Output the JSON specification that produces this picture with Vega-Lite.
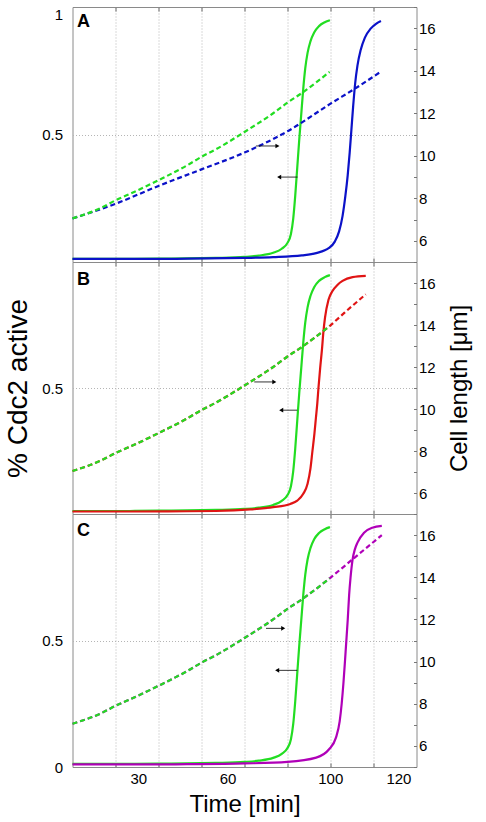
{
  "$schema": "https://vega.github.io/schema/vega-lite/v6.json",
  "padding": {"left": 3.5, "top": 6, "right": 0, "bottom": 0},
  "background": "white",
  "spacing": 0,
  "bounds": "flush",
  "config": {
    "view": {"stroke": "#8a8a8a", "strokeWidth": 1},
    "line": {"interpolate": "monotone"},
    "axis": {"grid": false, "labelFont": "Liberation Sans", "titleFont": "Liberation Sans", "labelColor": "#000", "titleColor": "#000", "titleFontWeight": "normal", "labelFontSize": 15}
  },
  "datasets": {
    "solid": [
      {"s": "wt", "t": 0, "v": 0.012}, {"s": "wt", "t": 10, "v": 0.012}, {"s": "wt", "t": 20, "v": 0.012}, {"s": "wt", "t": 30, "v": 0.013}, {"s": "wt", "t": 40, "v": 0.014}, {"s": "wt", "t": 50, "v": 0.016}, {"s": "wt", "t": 60, "v": 0.02}, {"s": "wt", "t": 65, "v": 0.025}, {"s": "wt", "t": 70, "v": 0.036}, {"s": "wt", "t": 73, "v": 0.052}, {"s": "wt", "t": 75, "v": 0.075}, {"s": "wt", "t": 76.2, "v": 0.11}, {"s": "wt", "t": 77, "v": 0.17}, {"s": "wt", "t": 77.7, "v": 0.26}, {"s": "wt", "t": 78.4, "v": 0.37}, {"s": "wt", "t": 79.1, "v": 0.48}, {"s": "wt", "t": 79.8, "v": 0.58}, {"s": "wt", "t": 80.5, "v": 0.68}, {"s": "wt", "t": 81.2, "v": 0.76}, {"s": "wt", "t": 82, "v": 0.82}, {"s": "wt", "t": 83, "v": 0.865}, {"s": "wt", "t": 84.3, "v": 0.9}, {"s": "wt", "t": 86, "v": 0.925}, {"s": "wt", "t": 88, "v": 0.94}, {"s": "wt", "t": 89.8, "v": 0.948},
      {"s": "A", "t": 0, "v": 0.012}, {"s": "A", "t": 20, "v": 0.012}, {"s": "A", "t": 40, "v": 0.013}, {"s": "A", "t": 60, "v": 0.016}, {"s": "A", "t": 70, "v": 0.019}, {"s": "A", "t": 80, "v": 0.026}, {"s": "A", "t": 85, "v": 0.035}, {"s": "A", "t": 89.5, "v": 0.055}, {"s": "A", "t": 91.5, "v": 0.08}, {"s": "A", "t": 93, "v": 0.12}, {"s": "A", "t": 94.2, "v": 0.18}, {"s": "A", "t": 95.2, "v": 0.26}, {"s": "A", "t": 96, "v": 0.34}, {"s": "A", "t": 96.7, "v": 0.43}, {"s": "A", "t": 97.3, "v": 0.52}, {"s": "A", "t": 97.9, "v": 0.61}, {"s": "A", "t": 98.6, "v": 0.7}, {"s": "A", "t": 99.4, "v": 0.77}, {"s": "A", "t": 100.5, "v": 0.83}, {"s": "A", "t": 102, "v": 0.88}, {"s": "A", "t": 104, "v": 0.915}, {"s": "A", "t": 106, "v": 0.935}, {"s": "A", "t": 107.6, "v": 0.945},
      {"s": "B", "t": 0, "v": 0.01}, {"s": "B", "t": 20, "v": 0.01}, {"s": "B", "t": 40, "v": 0.011}, {"s": "B", "t": 50, "v": 0.012}, {"s": "B", "t": 62, "v": 0.018}, {"s": "B", "t": 70, "v": 0.027}, {"s": "B", "t": 76, "v": 0.04}, {"s": "B", "t": 78.4, "v": 0.053}, {"s": "B", "t": 80.5, "v": 0.08}, {"s": "B", "t": 82, "v": 0.12}, {"s": "B", "t": 83, "v": 0.18}, {"s": "B", "t": 83.7, "v": 0.25}, {"s": "B", "t": 84.4, "v": 0.32}, {"s": "B", "t": 84.9, "v": 0.38}, {"s": "B", "t": 85.4, "v": 0.44}, {"s": "B", "t": 85.8, "v": 0.5}, {"s": "B", "t": 86.4, "v": 0.58}, {"s": "B", "t": 87, "v": 0.65}, {"s": "B", "t": 87.5, "v": 0.72}, {"s": "B", "t": 88.1, "v": 0.78}, {"s": "B", "t": 89.3, "v": 0.85}, {"s": "B", "t": 90.7, "v": 0.885}, {"s": "B", "t": 92.5, "v": 0.91}, {"s": "B", "t": 94.2, "v": 0.925}, {"s": "B", "t": 97.7, "v": 0.94}, {"s": "B", "t": 102.3, "v": 0.945},
      {"s": "C", "t": 0, "v": 0.01}, {"s": "C", "t": 20, "v": 0.01}, {"s": "C", "t": 40, "v": 0.011}, {"s": "C", "t": 60, "v": 0.014}, {"s": "C", "t": 75, "v": 0.02}, {"s": "C", "t": 85, "v": 0.037}, {"s": "C", "t": 89.5, "v": 0.07}, {"s": "C", "t": 91.9, "v": 0.116}, {"s": "C", "t": 93.2, "v": 0.18}, {"s": "C", "t": 93.9, "v": 0.25}, {"s": "C", "t": 94.5, "v": 0.33}, {"s": "C", "t": 95, "v": 0.41}, {"s": "C", "t": 95.4, "v": 0.478}, {"s": "C", "t": 96, "v": 0.58}, {"s": "C", "t": 96.5, "v": 0.68}, {"s": "C", "t": 97, "v": 0.75}, {"s": "C", "t": 97.7, "v": 0.82}, {"s": "C", "t": 98.5, "v": 0.86}, {"s": "C", "t": 99.4, "v": 0.887}, {"s": "C", "t": 101.7, "v": 0.926}, {"s": "C", "t": 104.6, "v": 0.946}, {"s": "C", "t": 107.9, "v": 0.953}
    ],
    "dashed": [
      {"s": "wt", "t": 0, "len": 7.05}, {"s": "wt", "t": 10, "len": 7.55}, {"s": "wt", "t": 15, "len": 7.9}, {"s": "wt", "t": 20, "len": 8.2}, {"s": "wt", "t": 30, "len": 8.85}, {"s": "wt", "t": 40, "len": 9.55}, {"s": "wt", "t": 45, "len": 9.95}, {"s": "wt", "t": 50, "len": 10.3}, {"s": "wt", "t": 60, "len": 11.12}, {"s": "wt", "t": 70, "len": 12.0}, {"s": "wt", "t": 75, "len": 12.5}, {"s": "wt", "t": 80, "len": 12.95}, {"s": "wt", "t": 85, "len": 13.45}, {"s": "wt", "t": 89.7, "len": 13.95},
      {"s": "A", "t": 0, "len": 7.05}, {"s": "A", "t": 15, "len": 7.74}, {"s": "A", "t": 30, "len": 8.58}, {"s": "A", "t": 45, "len": 9.36}, {"s": "A", "t": 60, "len": 10.15}, {"s": "A", "t": 75, "len": 11.15}, {"s": "A", "t": 90, "len": 12.45}, {"s": "A", "t": 99, "len": 13.2}, {"s": "A", "t": 107.6, "len": 13.96},
      {"s": "B", "t": 0, "len": 7.05}, {"s": "B", "t": 10, "len": 7.55}, {"s": "B", "t": 15, "len": 7.9}, {"s": "B", "t": 20, "len": 8.2}, {"s": "B", "t": 30, "len": 8.85}, {"s": "B", "t": 40, "len": 9.55}, {"s": "B", "t": 45, "len": 9.95}, {"s": "B", "t": 50, "len": 10.3}, {"s": "B", "t": 60, "len": 11.12}, {"s": "B", "t": 70, "len": 12.0}, {"s": "B", "t": 75, "len": 12.5}, {"s": "B", "t": 80, "len": 12.95}, {"s": "B", "t": 85, "len": 13.45}, {"s": "B", "t": 89.7, "len": 13.95}, {"s": "B", "t": 95, "len": 14.6}, {"s": "B", "t": 102.3, "len": 15.46},
      {"s": "C", "t": 0, "len": 7.05}, {"s": "C", "t": 10, "len": 7.55}, {"s": "C", "t": 15, "len": 7.9}, {"s": "C", "t": 20, "len": 8.2}, {"s": "C", "t": 30, "len": 8.85}, {"s": "C", "t": 40, "len": 9.55}, {"s": "C", "t": 45, "len": 9.95}, {"s": "C", "t": 50, "len": 10.3}, {"s": "C", "t": 60, "len": 11.12}, {"s": "C", "t": 70, "len": 12.0}, {"s": "C", "t": 75, "len": 12.5}, {"s": "C", "t": 80, "len": 12.95}, {"s": "C", "t": 85, "len": 13.45}, {"s": "C", "t": 89.7, "len": 13.95}, {"s": "C", "t": 97.7, "len": 14.85}, {"s": "C", "t": 107.9, "len": 16.0}
    ],
    "arrows": [
      {"p": "A", "dir": "right", "t1": 64.0, "t2": 71.5, "tip": 71.5, "v": 0.455},
      {"p": "A", "dir": "left", "t1": 72.1, "t2": 78.5, "tip": 72.1, "v": 0.333},
      {"p": "B", "dir": "right", "t1": 63.4, "t2": 70.4, "tip": 70.4, "v": 0.524},
      {"p": "B", "dir": "left", "t1": 72.8, "t2": 78.4, "tip": 72.8, "v": 0.412},
      {"p": "C", "dir": "right", "t1": 67.5, "t2": 73.5, "tip": 73.5, "v": 0.548},
      {"p": "C", "dir": "left", "t1": 71.4, "t2": 78.4, "tip": 71.4, "v": 0.382}
    ],
    "letters": [
      {"p": "A", "t": 1.6, "v": 0.921},
      {"p": "B", "t": 1.6, "v": 0.908},
      {"p": "C", "t": 1.6, "v": 0.912}
    ]
  },
  "vconcat": [
    {
      "width": 344, "height": 255,
      "resolve": {"scale": {"y": "independent"}, "axis": {"x": "independent", "y": "independent"}},
      "layer": [
        {"data": {"name": "solid"}, "transform": [{"filter": "datum.s == 'wt'"}],
         "mark": {"type": "line", "color": "#22dd22", "strokeWidth": 2.2},
         "encoding": {
           "x": {"field": "t", "type": "quantitative", "scale": {"domain": [0, 120], "nice": false}, "axis": {"orient": "bottom", "values": [15, 30, 45, 60, 75, 90, 105], "labels": false, "domain": false, "tickSize": -4, "tickColor": "#666", "grid": true, "gridDash": [1, 2], "gridColor": "#b5b5b5", "title": null}},
           "y": {"field": "v", "type": "quantitative", "scale": {"domain": [0, 1], "nice": false}, "axis": {"orient": "left", "values": [0, 0.5, 1], "labelExpr": "datum.value == 1 ? '1' : datum.value == 0.5 ? '0.5' : ''", "labelFlush": true, "ticks": false, "domain": false, "grid": true, "gridDash": [1, 2], "gridColor": "#b5b5b5", "gridOpacity": {"condition": {"test": "datum.value == 0.5", "value": 1}, "value": 0}, "labelPadding": 10, "title": null}}
         }},
        {"data": {"name": "solid"}, "transform": [{"filter": "datum.s == 'A'"}],
         "mark": {"type": "line", "color": "#0b12c8", "strokeWidth": 2.2},
         "encoding": {
           "x": {"field": "t", "type": "quantitative", "axis": null},
           "y": {"field": "v", "type": "quantitative", "scale": {"domain": [0, 1], "nice": false}, "axis": null}
         }},
        {"data": {"name": "dashed"}, "transform": [{"filter": "datum.s == 'A'"}],
         "mark": {"type": "line", "color": "#0b12c8", "strokeWidth": 2.2, "strokeDash": [5, 3]},
         "encoding": {
           "x": {"field": "t", "type": "quantitative", "axis": {"orient": "top", "values": [15, 30, 45, 60, 75, 90, 105], "labels": false, "domain": false, "grid": false, "tickSize": -4, "tickColor": "#666", "title": null}},
           "y": {"field": "len", "type": "quantitative", "scale": {"domain": [5, 17], "nice": false}, "axis": {"orient": "right", "values": [5, 6, 7, 8, 9, 10, 11, 12, 13, 14, 15, 16, 17], "labelExpr": "datum.value % 2 == 0 ? '' + datum.value : ''", "tickSize": -3, "tickColor": "#777", "domain": false, "grid": false, "labelPadding": 5, "title": null}}
         }},
        {"data": {"name": "dashed"}, "transform": [{"filter": "datum.s == 'wt'"}],
         "mark": {"type": "line", "color": "#22dd22", "strokeWidth": 2.2, "strokeDash": [5, 3]},
         "encoding": {
           "x": {"field": "t", "type": "quantitative", "axis": null},
           "y": {"field": "len", "type": "quantitative", "scale": {"domain": [5, 17], "nice": false}, "axis": null}
         }},
        {"data": {"name": "arrows"}, "transform": [{"filter": "datum.p == 'A'"}],
         "mark": {"type": "rule", "color": "#000", "strokeWidth": 0.8},
         "encoding": {
           "x": {"field": "t1", "type": "quantitative", "axis": null}, "x2": {"field": "t2"},
           "y": {"field": "v", "type": "quantitative", "scale": {"domain": [0, 1], "nice": false}, "axis": null}
         }},
        {"data": {"name": "arrows"}, "transform": [{"filter": "datum.p == 'A'"}],
         "mark": {"type": "point", "filled": true, "color": "#000", "size": 22, "opacity": 1},
         "encoding": {
           "x": {"field": "tip", "type": "quantitative", "axis": null},
           "y": {"field": "v", "type": "quantitative", "scale": {"domain": [0, 1], "nice": false}, "axis": null},
           "shape": {"field": "dir", "type": "nominal", "scale": {"domain": ["right", "left"], "range": ["triangle-right", "triangle-left"]}, "legend": null}
         }},
        {"data": {"name": "letters"}, "transform": [{"filter": "datum.p == 'A'"}],
         "mark": {"type": "text", "font": "Liberation Sans", "fontWeight": "bold", "fontSize": 18, "align": "left", "baseline": "alphabetic", "color": "#000"},
         "encoding": {
           "x": {"field": "t", "type": "quantitative", "axis": null},
           "y": {"field": "v", "type": "quantitative", "scale": {"domain": [0, 1], "nice": false}, "axis": null},
           "text": {"field": "p"}
         }}
      ]
    },
    {
      "width": 344, "height": 252,
      "resolve": {"scale": {"y": "independent"}, "axis": {"x": "independent", "y": "independent"}},
      "layer": [
        {"data": {"name": "solid"}, "transform": [{"filter": "datum.s == 'wt'"}],
         "mark": {"type": "line", "color": "#22dd22", "strokeWidth": 2.2},
         "encoding": {
           "x": {"field": "t", "type": "quantitative", "scale": {"domain": [0, 120], "nice": false}, "axis": {"orient": "bottom", "values": [15, 30, 45, 60, 75, 90, 105], "labels": false, "domain": false, "tickSize": -4, "tickColor": "#666", "grid": true, "gridDash": [1, 2], "gridColor": "#b5b5b5", "title": null}},
           "y": {"field": "v", "type": "quantitative", "scale": {"domain": [0, 1], "nice": false}, "axis": {"orient": "left", "values": [0, 0.5, 1], "labelExpr": "datum.value == 0.5 ? '0.5' : ''", "labelFlush": false, "ticks": false, "domain": false, "grid": true, "gridDash": [1, 2], "gridColor": "#b5b5b5", "gridOpacity": {"condition": {"test": "datum.value == 0.5", "value": 1}, "value": 0}, "labelPadding": 10, "title": "% Cdc2 active", "titleFontSize": 28, "titlePadding": 9}}
         }},
        {"data": {"name": "solid"}, "transform": [{"filter": "datum.s == 'B'"}],
         "mark": {"type": "line", "color": "#e01414", "strokeWidth": 2.2},
         "encoding": {
           "x": {"field": "t", "type": "quantitative", "axis": null},
           "y": {"field": "v", "type": "quantitative", "scale": {"domain": [0, 1], "nice": false}, "axis": null}
         }},
        {"data": {"name": "dashed"}, "transform": [{"filter": "datum.s == 'B'"}],
         "mark": {"type": "line", "color": "#e01414", "strokeWidth": 2.2, "strokeDash": [5, 3]},
         "encoding": {
           "x": {"field": "t", "type": "quantitative", "axis": {"orient": "top", "values": [15, 30, 45, 60, 75, 90, 105], "labels": false, "domain": false, "grid": false, "tickSize": -4, "tickColor": "#666", "title": null}},
           "y": {"field": "len", "type": "quantitative", "scale": {"domain": [5, 17], "nice": false}, "axis": {"orient": "right", "values": [5, 6, 7, 8, 9, 10, 11, 12, 13, 14, 15, 16, 17], "labelExpr": "datum.value % 2 == 0 ? '' + datum.value : ''", "tickSize": -3, "tickColor": "#777", "domain": false, "grid": false, "labelPadding": 5, "title": "Cell length [μm]", "titleFontSize": 24, "titleAngle": 270, "titlePadding": 36}}
         }},
        {"data": {"name": "dashed"}, "transform": [{"filter": "datum.s == 'wt'"}],
         "mark": {"type": "line", "color": "#22dd22", "strokeWidth": 2.2, "strokeDash": [5, 3]},
         "encoding": {
           "x": {"field": "t", "type": "quantitative", "axis": null},
           "y": {"field": "len", "type": "quantitative", "scale": {"domain": [5, 17], "nice": false}, "axis": null}
         }},
        {"data": {"name": "arrows"}, "transform": [{"filter": "datum.p == 'B'"}],
         "mark": {"type": "rule", "color": "#000", "strokeWidth": 0.8},
         "encoding": {
           "x": {"field": "t1", "type": "quantitative", "axis": null}, "x2": {"field": "t2"},
           "y": {"field": "v", "type": "quantitative", "scale": {"domain": [0, 1], "nice": false}, "axis": null}
         }},
        {"data": {"name": "arrows"}, "transform": [{"filter": "datum.p == 'B'"}],
         "mark": {"type": "point", "filled": true, "color": "#000", "size": 22, "opacity": 1},
         "encoding": {
           "x": {"field": "tip", "type": "quantitative", "axis": null},
           "y": {"field": "v", "type": "quantitative", "scale": {"domain": [0, 1], "nice": false}, "axis": null},
           "shape": {"field": "dir", "type": "nominal", "scale": {"domain": ["right", "left"], "range": ["triangle-right", "triangle-left"]}, "legend": null}
         }},
        {"data": {"name": "letters"}, "transform": [{"filter": "datum.p == 'B'"}],
         "mark": {"type": "text", "font": "Liberation Sans", "fontWeight": "bold", "fontSize": 18, "align": "left", "baseline": "alphabetic", "color": "#000"},
         "encoding": {
           "x": {"field": "t", "type": "quantitative", "axis": null},
           "y": {"field": "v", "type": "quantitative", "scale": {"domain": [0, 1], "nice": false}, "axis": null},
           "text": {"field": "p"}
         }}
      ]
    },
    {
      "width": 344, "height": 253,
      "resolve": {"scale": {"y": "independent"}, "axis": {"x": "independent", "y": "independent"}},
      "layer": [
        {"data": {"name": "solid"}, "transform": [{"filter": "datum.s == 'wt'"}],
         "mark": {"type": "line", "color": "#22dd22", "strokeWidth": 2.2},
         "encoding": {
           "x": {"field": "t", "type": "quantitative", "scale": {"domain": [0, 120], "nice": false}, "axis": {"orient": "bottom", "values": [15, 30, 45, 60, 75, 90, 105], "labels": false, "domain": false, "tickSize": -4, "tickColor": "#666", "grid": true, "gridDash": [1, 2], "gridColor": "#b5b5b5", "title": null}},
           "y": {"field": "v", "type": "quantitative", "scale": {"domain": [0, 1], "nice": false}, "axis": {"orient": "left", "values": [0, 0.5, 1], "labelExpr": "datum.value == 0.5 ? '0.5' : datum.value == 0 ? '0' : ''", "labelFlush": false, "ticks": false, "domain": false, "grid": true, "gridDash": [1, 2], "gridColor": "#b5b5b5", "gridOpacity": {"condition": {"test": "datum.value == 0.5", "value": 1}, "value": 0}, "labelPadding": 10, "title": null}}
         }},
        {"data": {"name": "solid"}, "transform": [{"filter": "datum.s == 'C'"}],
         "mark": {"type": "line", "color": "#b000b8", "strokeWidth": 2.2},
         "encoding": {
           "x": {"field": "t", "type": "quantitative", "axis": null},
           "y": {"field": "v", "type": "quantitative", "scale": {"domain": [0, 1], "nice": false}, "axis": null}
         }},
        {"data": {"name": "dashed"}, "transform": [{"filter": "datum.s == 'C'"}],
         "mark": {"type": "line", "color": "#b000b8", "strokeWidth": 2.2, "strokeDash": [5, 3]},
         "encoding": {
           "x": {"field": "t", "type": "quantitative", "axis": {"orient": "top", "values": [15, 30, 45, 60, 75, 90, 105], "labels": false, "domain": false, "grid": false, "tickSize": -4, "tickColor": "#666", "title": null}},
           "y": {"field": "len", "type": "quantitative", "scale": {"domain": [5, 17], "nice": false}, "axis": {"orient": "right", "values": [5, 6, 7, 8, 9, 10, 11, 12, 13, 14, 15, 16, 17], "labelExpr": "datum.value % 2 == 0 ? '' + datum.value : ''", "tickSize": -3, "tickColor": "#777", "domain": false, "grid": false, "labelPadding": 5, "title": null}}
         }},
        {"data": {"name": "dashed"}, "transform": [{"filter": "datum.s == 'wt'"}],
         "mark": {"type": "line", "color": "#22dd22", "strokeWidth": 2.2, "strokeDash": [5, 3]},
         "encoding": {
           "x": {"field": "t", "type": "quantitative", "axis": null},
           "y": {"field": "len", "type": "quantitative", "scale": {"domain": [5, 17], "nice": false}, "axis": null}
         }},
        {"data": {"name": "arrows"}, "transform": [{"filter": "datum.p == 'C'"}],
         "mark": {"type": "rule", "color": "#000", "strokeWidth": 0.8},
         "encoding": {
           "x": {"field": "t1", "type": "quantitative", "axis": null}, "x2": {"field": "t2"},
           "y": {"field": "v", "type": "quantitative", "scale": {"domain": [0, 1], "nice": false}, "axis": null}
         }},
        {"data": {"name": "arrows"}, "transform": [{"filter": "datum.p == 'C'"}],
         "mark": {"type": "point", "filled": true, "color": "#000", "size": 22, "opacity": 1},
         "encoding": {
           "x": {"field": "tip", "type": "quantitative", "axis": null},
           "y": {"field": "v", "type": "quantitative", "scale": {"domain": [0, 1], "nice": false}, "axis": null},
           "shape": {"field": "dir", "type": "nominal", "scale": {"domain": ["right", "left"], "range": ["triangle-right", "triangle-left"]}, "legend": null}
         }},
        {"data": {"name": "letters"}, "transform": [{"filter": "datum.p == 'C'"}],
         "mark": {"type": "text", "font": "Liberation Sans", "fontWeight": "bold", "fontSize": 18, "align": "left", "baseline": "alphabetic", "color": "#000"},
         "encoding": {
           "x": {"field": "t", "type": "quantitative", "axis": {"orient": "bottom", "values": [22.94, 54.1, 89.9, 113.7], "labelExpr": "datum.value < 30 ? '30' : datum.value < 60 ? '60' : datum.value < 100 ? '100' : '120'", "labelFlush": false, "ticks": false, "domain": false, "grid": false, "labelPadding": 4, "title": "Time [min]", "titleFontSize": 24, "titlePadding": 6}},
           "y": {"field": "v", "type": "quantitative", "scale": {"domain": [0, 1], "nice": false}, "axis": null},
           "text": {"field": "p"}
         }}
      ]
    }
  ]
}
